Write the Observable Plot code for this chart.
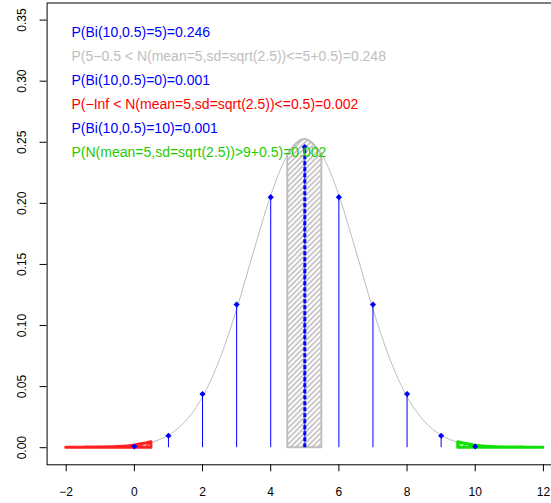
<!DOCTYPE html>
<html><head><meta charset="utf-8">
<script src="https://cdn.jsdelivr.net/npm/d3@7"></script>
<script src="https://cdn.jsdelivr.net/npm/@observablehq/plot@0.6"></script>
<style>body{margin:0;background:#fff;overflow:hidden} svg{display:block}</style>
</head><body><div id="chart"></div>
<script>
// binomial(10, 0.5) probabilities
const k = [0,1,2,3,4,5,6,7,8,9,10];
const pmf = [0.000977,0.009766,0.043945,0.117188,0.205078,0.246094,0.205078,0.117188,0.043945,0.009766,0.000977];
// normal density N(5, sqrt(2.5)) read at half-unit steps
const xs = [-2,-1.5,-1,-0.5,0,0.5,1,1.5,2,2.5,3,3.5,4,4.5,5,5.5,6,6.5,7,7.5,8,8.5,9,9.5,10,10.5,11,11.5,12];
const dens = [0.000014,0.000054,0.000188,0.000595,0.001700,0.004396,0.010284,0.021772,0.041707,0.072289,0.113371,0.160883,0.206577,0.240006,0.252313,0.240006,0.206577,0.160883,0.113371,0.072289,0.041707,0.021772,0.010284,0.004396,0.001700,0.000595,0.000188,0.000054,0.000014];
const xTicks = [-2,0,2,4,6,8,10,12];
const yTicks = [0,0.05,0.10,0.15,0.20,0.25,0.30,0.35];
const labels = [
  "P(Bi(10,0.5)=5)=0.246",
  "P(5\u22120.5 < N(mean=5,sd=sqrt(2.5))<=5+0.5)=0.248",
  "P(Bi(10,0.5)=0)=0.001",
  "P(\u2212Inf < N(mean=5,sd=sqrt(2.5))<=0.5)=0.002",
  "P(Bi(10,0.5)=10)=0.001",
  "P(N(mean=5,sd=sqrt(2.5))>9+0.5)=0.002"
];
const labelColors = ["#0000FF","#BEBEBE","#0000FF","#FF0000","#0000FF","#22CC00"];

const binom = k.map((x,i)=>({x, p: pmf[i]}));
const curve = xs.map((x,i)=>({x, y: dens[i]}));
const leftTail = curve.filter(d => d.x <= 0.5);
const center = curve.filter(d => d.x >= 4.5 && d.x <= 5.5);
const rightTail = curve.filter(d => d.x >= 9.5);
const mode = binom.filter(d => d.p === d3.max(pmf));

const FONT = "'Liberation Sans', Arial, Helvetica, sans-serif";

const plot = Plot.plot({
  width: 551,
  height: 503,
  marginLeft: 46.6,
  marginRight: -11,
  marginTop: 2.5,
  marginBottom: 38.7,
  style: {fontFamily: FONT, fontSize: "12px", background: "#fff", overflow: "visible"},
  x: {domain: [-2.56, 12.56]},
  y: {domain: [-0.014, 0.364]},
  marks: [
    Plot.line(curve, {x: "x", y: "y", stroke: "#BEBEBE", strokeWidth: 1, curve: "monotone-x"}),
    Plot.ruleX(binom, {x: "x", y1: 0, y2: "p", stroke: "#0000FF", strokeWidth: 1}),
    Plot.areaY(leftTail, {x: "x", y: "y", curve: "monotone-x", fill: "url(#hatchRed)", stroke: "#FF2020", strokeWidth: 3}),
    Plot.areaY(center, {x: "x", y: "y", curve: "monotone-x", fill: "url(#hatchGray)", stroke: "#BEBEBE", strokeWidth: 2}),
    Plot.areaY(rightTail, {x: "x", y: "y", curve: "monotone-x", fill: "url(#hatchGreen)", stroke: "#10E000", strokeWidth: 3}),
    Plot.ruleX(mode, {x: "x", y1: 0, y2: "p", stroke: "#0000FF", strokeWidth: 3, strokeDasharray: "4,2"}),
    Plot.dot(binom, {x: "x", y: "p", symbol: "diamond2", r: 2.8, fill: "#0000FF", stroke: "none"}),
    Plot.frame({stroke: "#000"}),
    Plot.axisX({ticks: xTicks, tickSize: 7, tickPadding: 15.5, label: null, tickFormat: d => String(d).replace("-", "\u2212"), fontSize: 12}),
    Plot.axisY({ticks: yTicks, tickSize: 7, label: null, tickFormat: () => ""}),
    Plot.text(yTicks, {y: d => d, text: d => d.toFixed(2), frameAnchor: "left", dx: -25, rotate: -90, textAnchor: "middle", lineAnchor: "middle", fontSize: 12, fill: "#000"}),
    ...labels.map((t, i) => Plot.text([t], {
      text: d => d, frameAnchor: "top-left", dx: 24.4, dy: 29.5 + 24.1 * i,
      textAnchor: "start", lineAnchor: "middle", fill: labelColors[i], fontSize: 14
    }))
  ]
});

const svg = d3.select(plot);
const defs = svg.insert("defs", ":first-child");
function hatch(id, color, w) {
  const p = defs.append("pattern").attr("id", id)
    .attr("patternUnits", "userSpaceOnUse")
    .attr("width", 3.8).attr("height", 10)
    .attr("patternTransform", "rotate(45)");
  p.append("line").attr("x1", 1).attr("x2", 1).attr("y1", -1).attr("y2", 11)
    .attr("stroke", color).attr("stroke-width", w);
}
hatch("hatchRed", "#FF0000", 1.4);
hatch("hatchGray", "#BEBEBE", 1.6);
hatch("hatchGreen", "#10E000", 1.4);

document.getElementById("chart").appendChild(plot);
</script>
</body></html>
